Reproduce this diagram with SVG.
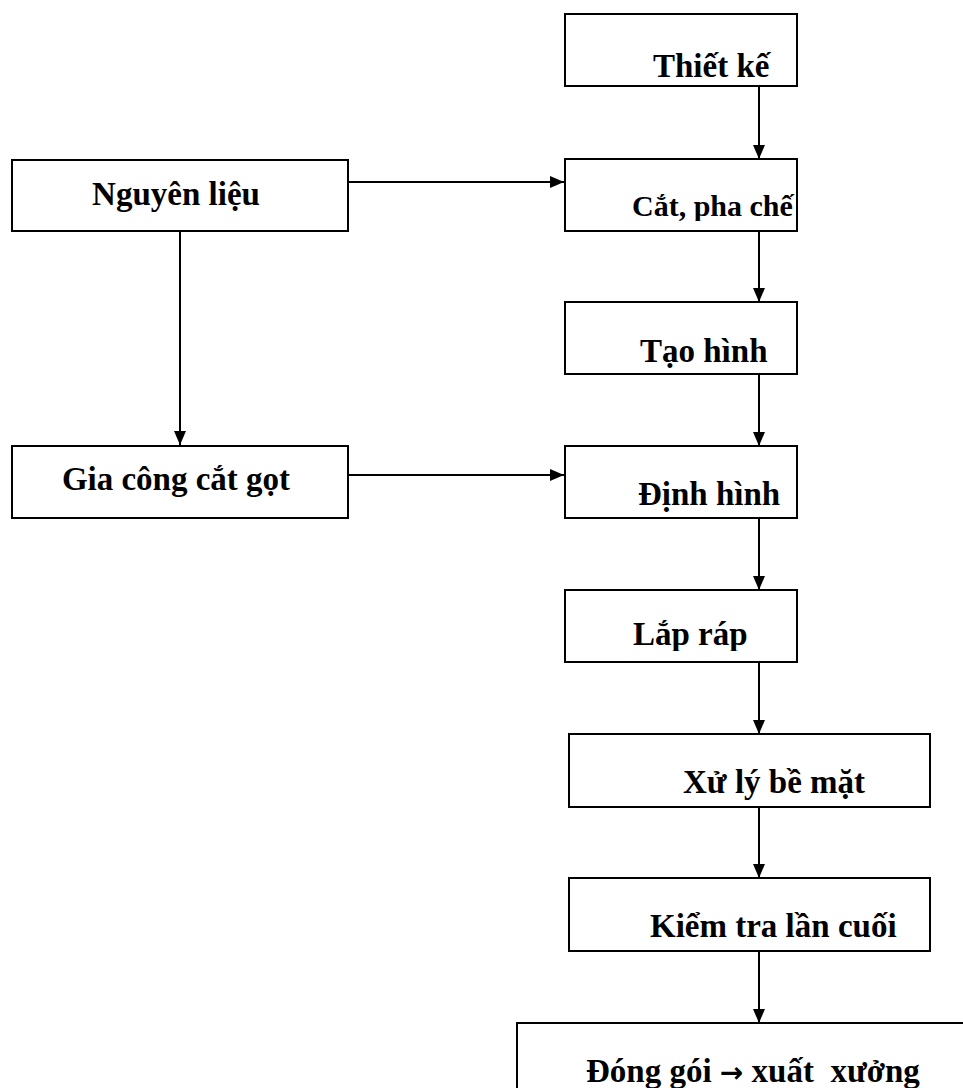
<svg xmlns="http://www.w3.org/2000/svg" width="963" height="1088" viewBox="0 0 963 1088">
<defs>
<style>
.box{fill:#fff;stroke:#000;stroke-width:2}
.lbl{font-family:"Liberation Serif","Times New Roman",serif;font-weight:bold;font-size:33px;fill:#000;white-space:pre}
.mid{text-anchor:middle}
.con{stroke:#000;stroke-width:2;fill:none}
.arw{font-family:"DejaVu Sans",sans-serif;font-weight:bold;font-size:28px}
</style>
<marker id="ah" viewBox="0 0 14 12" refX="14" refY="6" markerWidth="14" markerHeight="12" markerUnits="userSpaceOnUse" orient="auto">
<path d="M0,0 L14,6 L0,12 Z" fill="#000"/>
</marker>
<clipPath id="clipCat"><rect x="565" y="159" width="232" height="62"/></clipPath>
<clipPath id="clipLap"><rect x="565" y="590" width="232" height="61"/></clipPath>
</defs>
<rect width="963" height="1088" fill="#fff"/>
<g id="connectors">
<line class="con" x1="759" y1="86" x2="759" y2="159" marker-end="url(#ah)"/>
<line class="con" x1="348" y1="182" x2="564" y2="182" marker-end="url(#ah)"/>
<line class="con" x1="759" y1="231" x2="759" y2="302" marker-end="url(#ah)"/>
<line class="con" x1="180" y1="231" x2="180" y2="445" marker-end="url(#ah)"/>
<line class="con" x1="759" y1="374" x2="759" y2="446" marker-end="url(#ah)"/>
<line class="con" x1="348" y1="475" x2="564" y2="475" marker-end="url(#ah)"/>
<line class="con" x1="759" y1="518" x2="759" y2="590" marker-end="url(#ah)"/>
<line class="con" x1="759" y1="662" x2="759" y2="734" marker-end="url(#ah)"/>
<line class="con" x1="759" y1="807" x2="759" y2="878" marker-end="url(#ah)"/>
<line class="con" x1="759" y1="951" x2="759" y2="1023" marker-end="url(#ah)"/>
</g>
<g id="n-thietke"><rect class="box" x="565" y="14" width="232" height="72"/><text class="lbl" x="653" y="77">Thiết kế</text></g>
<g id="n-nguyenlieu"><rect class="box" x="12" y="160" width="336" height="71"/><text class="lbl mid" x="176" y="205">Nguyên liệu</text></g>
<g id="n-cat"><rect class="box" x="565" y="159" width="232" height="72"/><text class="lbl" x="632" y="216" style="font-size:30px" clip-path="url(#clipCat)">Cắt, pha chế</text></g>
<g id="n-taohinh"><rect class="box" x="565" y="302" width="232" height="72"/><text class="lbl" x="640" y="362">Tạo hình</text></g>
<g id="n-giacong"><rect class="box" x="12" y="446" width="336" height="72"/><text class="lbl mid" x="176" y="490">Gia công cắt gọt</text></g>
<g id="n-dinhhinh"><rect class="box" x="565" y="446" width="232" height="72"/><text class="lbl" x="638" y="505">Định hình</text></g>
<g id="n-laprap"><rect class="box" x="565" y="590" width="232" height="72"/><text class="lbl" x="633" y="645" clip-path="url(#clipLap)">Lắp ráp</text></g>
<g id="n-xuly"><rect class="box" x="569" y="734" width="361" height="73"/><text class="lbl" x="683" y="793">Xử lý bề mặt</text></g>
<g id="n-kiemtra"><rect class="box" x="569" y="878" width="361" height="73"/><text class="lbl" x="650" y="937">Kiểm tra lần cuối</text></g>
<g id="n-donggoi"><rect class="box" x="517" y="1023" width="460" height="80"/><text class="lbl" x="586" y="1082">Đóng gói <tspan class="arw">→</tspan> xuất  xưởng</text></g>
</svg>
